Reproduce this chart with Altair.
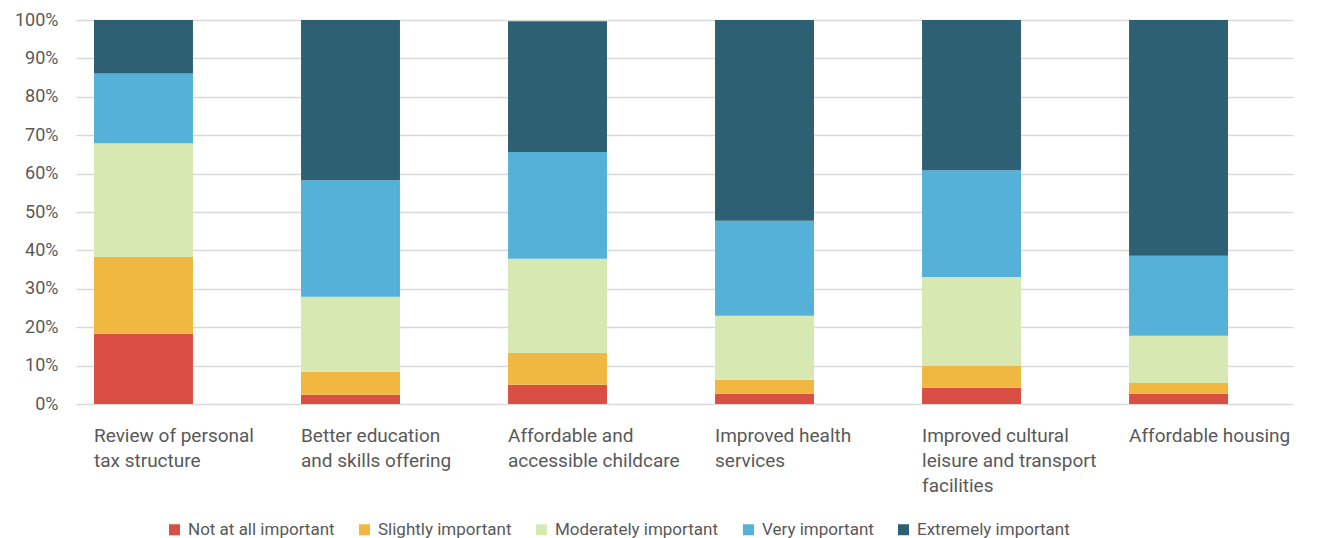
import altair as alt
import pandas as pd

categories = [
    "Review of personal\ntax structure",
    "Better education\nand skills offering",
    "Affordable and\naccessible childcare",
    "Improved health\nservices",
    "Improved cultural\nleisure and transport\nfacilities",
    "Affordable housing",
]
levels = ["Not at all important", "Slightly important", "Moderately important",
          "Very important", "Extremely important"]
colors = ["#D94F43", "#F0B841", "#D8E8B3", "#56B1D9", "#2D6073"]

not_at_all = [18.3, 2.4, 5.0, 2.7, 4.2, 2.7]
slightly = [20.0, 6.0, 8.3, 3.6, 5.8, 2.8]
moderately = [29.6, 19.5, 24.5, 16.7, 23.1, 12.3]
very = [18.2, 30.4, 27.8, 24.7, 27.8, 20.8]
extremely = [13.9, 41.7, 34.1, 52.3, 39.1, 61.4]
series = [not_at_all, slightly, moderately, very, extremely]
y_ticks = [0, 10, 20, 30, 40, 50, 60, 70, 80, 90, 100]

rows = []
for li, (lvl, vals) in enumerate(zip(levels, series)):
    for cat, v in zip(categories, vals):
        rows.append({"category": cat, "level": lvl, "rank": li, "value": v})
df = pd.DataFrame(rows)

FONT = "Roboto"
GREY = "#595959"

chart = alt.Chart(df).mark_bar().encode(
    x=alt.X("category:N", sort=categories, title=None,
            scale=alt.Scale(paddingInner=0.522, paddingOuter=0.2005, align=0.217),
            axis=alt.Axis(labelAlign="left", labelBaseline="top", labelOffset=-49.5,
                          labelAngle=0, labelPadding=22, labelFontSize=19,
                          labelLineHeight=25, labelColor=GREY, labelFont=FONT,
                          labelLimit=0, labelOverlap=False,
                          ticks=False, domain=False, grid=False,
                          labelExpr="split(datum.label, '\\n')")),
    y=alt.Y("value:Q", stack="zero", title=None,
            scale=alt.Scale(domain=[0, 100], nice=False),
            axis=alt.Axis(values=y_ticks, labelExpr="datum.value + '%'",
                          labelFontSize=18, labelColor=GREY, labelFont=FONT,
                          labelPadding=18, ticks=False, domain=False,
                          grid=True, gridColor="#D9D9D9", gridWidth=1.5)),
    color=alt.Color("level:N", sort=levels,
                    scale=alt.Scale(domain=levels, range=colors),
                    legend=alt.Legend(title=None, orient="none", direction="horizontal",
                                      legendX=90, legendY=501,
                                      symbolType="square", symbolSize=121,
                                      symbolStrokeWidth=0, labelFontSize=17,
                                      labelColor=GREY, labelFont=FONT, labelLimit=0,
                                      columnPadding=21, labelOffset=5)),
    order=alt.Order("rank:Q", sort="ascending"),
).properties(
    width=1217, height=384,
    autosize=alt.AutoSizeParams(type="none"),
    padding={"left": 68, "top": 12, "right": 16, "bottom": 134},
).configure_view(stroke=None)

chart.save("out.html", embed_options={"renderer": "svg", "actions": False})
